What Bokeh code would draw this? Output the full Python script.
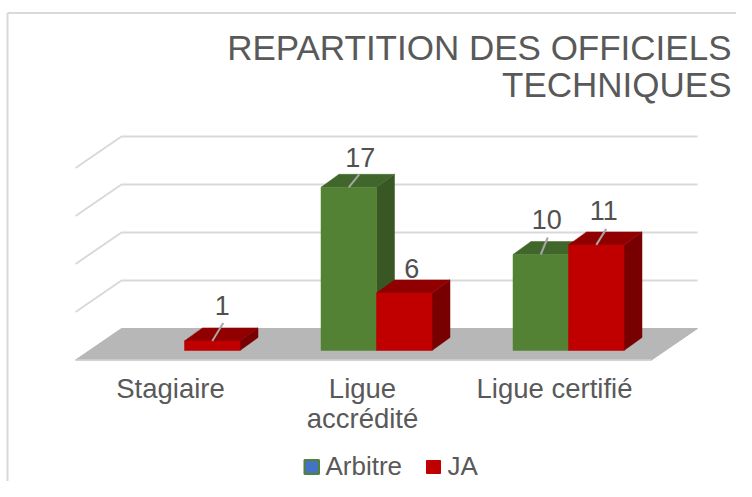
from bokeh.plotting import figure
from bokeh.embed import file_html
from bokeh.resources import INLINE
from bokeh.core.properties import value

# ---- data ----
categories = ["Stagiaire", "Ligue\naccrédité", "Ligue certifié"]
arbitre = [0, 17, 10]
ja = [1, 6, 11]
grid_values = [0, 5, 10, 15, 20]
title_lines = ["REPARTITION DES OFFICIELS", "TECHNIQUES"]
legend_names = ["Arbitre", "JA"]

# ---- layout (pixels of the picture) ----
W, H = 736, 481
X0, XU = 184.0, 192.0     # x=0 screen position, px per category
Y0, YU = 350.0, 9.6       # value 0 screen position, px per unit
BAR = 55.5 / XU
DX, DY = 18 / XU, 13 / YU  # bar depth
WDX, WDY = 46 / XU, 22 / YU  # wall offset relative to bar base

def sx(px):
    return (px - X0) / XU

def sy(py):
    return (Y0 - py) / YU

TXT = "#595959"
FONT = value("Liberation Sans")

p = figure(width=W, height=H, output_backend="svg", toolbar_location=None,
           x_range=(sx(0), sx(W)), y_range=(sy(H), sy(0)),
           min_border=0, outline_line_color=None, background_fill_color="white",
           border_fill_color="white")
p.axis.visible = False
p.grid.visible = False

# chart frame (top and left edges)
p.line([sx(7), sx(7)], [sy(H), sy(12.5)], line_color="#D9D9D9", line_width=2)
p.line([sx(7), sx(W)], [sy(12.5), sy(12.5)], line_color="#D9D9D9", line_width=2)

# floor
floor_back = 0 + WDY
floor_front = floor_back - 31.5 / YU
left_f, left_b = sx(75), sx(121)
right_b = sx(697)
right_f = right_b - WDX
p.patch([left_f, right_f, right_b, left_b], [floor_front, floor_front, floor_back, floor_back],
        fill_color="#B7B7B7", line_color="#B7B7B7", line_width=1)
p.line([left_f, right_f], [floor_front, floor_front], line_color="#D0D0D0", line_width=1.5)

# walls' gridlines
for g in grid_values[1:]:
    b = g + WDY
    p.line([left_f, left_b, right_b], [b - 31.5 / YU, b, b], line_color="#D9D9D9", line_width=2)

def draw_bars(vals, offset, front, top_c, side):
    for i, v in enumerate(vals):
        if v <= 0:
            continue
        l = i + offset
        r = l + BAR
        p.patch([r, r + DX, r + DX, r], [0, DY, v + DY, v], fill_color=side, line_color=side, line_width=0.5)
        p.patch([l, r, r + DX, l + DX], [v, v, v + DY, v + DY], fill_color=top_c, line_color=top_c, line_width=0.5)
        p.vbar(x=[l + BAR / 2], width=BAR, bottom=[0], top=[v], fill_color=front, line_color=front, line_width=0.5)

draw_bars(arbitre, -BAR, "#548235", "#41662B", "#385723")
draw_bars(ja, 0, "#C00000", "#900000", "#780000")

# data labels and leader lines
def labels(vals, offset, label_off, leader_off):
    for i, v in enumerate(vals):
        if v <= 0:
            continue
        cx = i + offset + BAR / 2
        if leader_off[i] is not None:
            lx, ly = leader_off[i]
            p.segment([cx], [v], [cx + lx / XU], [v - ly / YU], line_color="#A6A6A6", line_width=2)
        ox, oy = label_off[i]
        p.text([cx + ox / XU], [v - oy / YU], text=[str(v)], text_align="center", text_baseline="middle",
               text_font=FONT, text_font_size="27px", text_color="#505050")

labels(arbitre, -BAR, [None, (11.5, -30), (6, -35)], [None, (10.5, -13), (7, -17)])
labels(ja, 0, [(10, -35), (7.5, -24), (7.5, -34)], [(11, -18), None, (10, -16)])

# category labels (middle baseline: y is the text's centre)
for i, c in enumerate(categories):
    for j, line in enumerate(c.split("\n")):
        p.text([i - 14 / XU], [sy(388 + 30 * j)], text=[line], text_align="center", text_baseline="middle",
               text_font=FONT, text_font_size="27.5px", text_color=TXT)

# title
for j, line in enumerate(title_lines):
    p.text([sx(731)], [sy(47 + 37 * j)], text=[line], text_align="right", text_baseline="middle",
           text_font=FONT, text_font_size="35px", text_color=TXT)

# legend
p.quad(left=[sx(304)], right=[sx(318.5)], top=[sy(459.5)], bottom=[sy(473.5)],
       fill_color="#4472C4", line_color="#548235", line_width=2)
p.quad(left=[sx(426)], right=[sx(440)], top=[sy(460)], bottom=[sy(473)],
       fill_color="#C00000", line_color="#C00000", line_width=1)
p.text([sx(325)], [sy(465)], text=[legend_names[0]], text_baseline="middle",
       text_font=FONT, text_font_size="26px", text_color=TXT)
p.text([sx(447)], [sy(465)], text=[legend_names[1]], text_baseline="middle",
       text_font=FONT, text_font_size="26px", text_color=TXT)

open("out.html", "w").write(file_html(p, INLINE))
